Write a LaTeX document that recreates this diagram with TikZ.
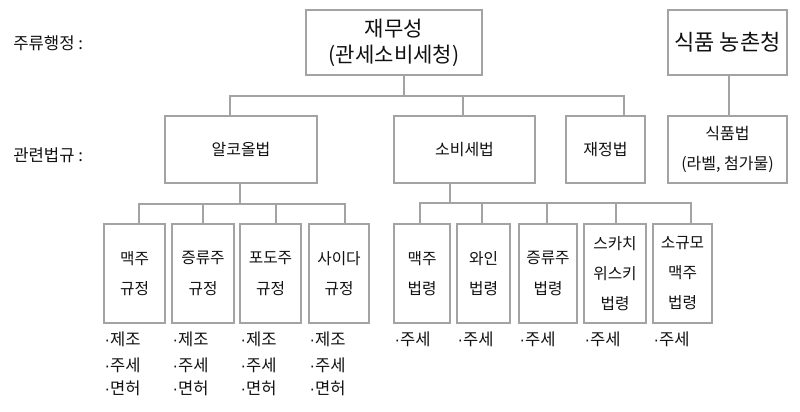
\documentclass[tikz,border=0pt]{standalone}
\usepackage{fontspec}
\setmainfont{Noto Sans CJK KR}
\newfontfamily\dotfont{Liberation Sans}
\newcommand{\mdot}{{\dotfont ·}}
\usetikzlibrary{calc}
\definecolor{linegray}{HTML}{A3A3A3}
\definecolor{txt}{HTML}{111111}
\begin{document}
\begin{tikzpicture}[x=0.75pt,y=-0.75pt,
  box/.style={draw=linegray, line width=0.8pt, rectangle, inner sep=0pt, align=center, text=txt},
  sz/.style 2 args={minimum width={#1*0.75pt}, minimum height={#2*0.75pt}},
  conn/.style={draw=linegray, line width=0.9pt},
  big/.style={font=\fontsize{15.8}{19.5}\selectfont},
  huge/.style={font=\fontsize{16.5}{20}\selectfont},
  mid/.style={font=\fontsize{12}{22.5}\selectfont},
  small/.style={font=\fontsize{11.8}{23}\selectfont},
  bul/.style={anchor=west, inner sep=0pt, text=txt, font=\fontsize{12.4}{14}\selectfont},
  lab/.style={anchor=west, inner sep=0pt, text=txt, font=\fontsize{12.5}{14}\selectfont}]
\useasboundingbox (0,0) rectangle (800,411);
\fill[white] (0,0) rectangle (800,411);

% left labels
\node[lab] (l1) at (13,43) {주류행정 :};
\node[lab] (l2) at (13,155) {관련법규 :};

% top level
\node[box,big,sz={176}{65}] (mof) at (394,42.5) {재무성\\(관세소비세청)};
\node[box,huge,sz={119}{65}] (food) at (727.5,42.5) {식품 농촌청};

% second level
\node[box,mid,sz={152}{67}] (alc) at (241,149.5) {알코올법};
\node[box,mid,sz={141}{67}] (exc) at (464.5,149.5) {소비세법};
\node[box,mid,sz={79}{67}] (fin) at (605.5,149.5) {재정법};
\node[box,mid,sz={119}{67}] (flaw) at (727.5,149.5) {식품법\\(라벨, 첨가물)};

% third level (alcohol law)
\node[box,small,sz={61}{99}] (b1) at (134.5,273.5) {맥주\\규정};
\node[box,small,sz={62}{99}] (b2) at (203,273.5) {증류주\\규정};
\node[box,small,sz={61}{99}] (b3) at (270.5,273.5) {포도주\\규정};
\node[box,small,sz={60}{99}] (b4) at (339,273.5) {사이다\\규정};

% third level (excise law)
\node[box,small,sz={56}{99}] (c1) at (422,273.5) {맥주\\법령};
\node[box,small,sz={53}{99}] (c2) at (483.5,273.5) {와인\\법령};
\node[box,small,sz={58}{99}] (c3) at (548,273.5) {증류주\\법령};
\node[box,font=\fontsize{11.8}{22.5}\selectfont,sz={62}{99}] (c4) at (615,273.5) {스카치\\위스키\\법령};
\node[box,font=\fontsize{11.8}{22.5}\selectfont,sz={59}{99}] (c5) at (682.5,273.5) {소규모\\맥주\\법령};

% bullets
\foreach \b in {b1,b2,b3,b4}{
  \node[bul] (\b-1) at ($(\b.south west)+(1,16)$) {\mdot 제조};
  \node[bul] (\b-2) at ($(\b.south west)+(1,42)$) {\mdot 주세};
  \node[bul] (\b-3) at ($(\b.south west)+(1,65)$) {\mdot 면허};
}
\foreach \c in {c1,c2,c3,c4,c5}{
  \node[bul] (\c-1) at ($(\c.south west)+(1,16)$) {\mdot 주세};
}

% connectors: top
\coordinate (j0) at (404,96);
\coordinate (ja) at (230,96);
\coordinate (je) at (463,96);
\coordinate (jf) at (624,96);
\draw[conn] (mof.south -| j0) -- (j0);
\draw[conn] (alc.north -| ja) -- (ja) -- (jf) -- (fin.north -| jf);
\draw[conn] (exc.north -| je) -- (je);
\draw[conn] (food.south -| 729,0) -- (flaw.north -| 729,0);

% connectors: alcohol law
\coordinate (ka) at (240,204);
\coordinate (k1) at (139,204);
\coordinate (k2) at (203,204);
\coordinate (k3) at (276,204);
\coordinate (k4) at (345,204);
\draw[conn] (alc.south -| ka) -- (ka);
\draw[conn] (b1.north -| k1) -- (k1) -- (k4) -- (b4.north -| k4);
\draw[conn] (b2.north -| k2) -- (k2);
\draw[conn] (b3.north -| k3) -- (k3);

% connectors: excise law
\coordinate (ma) at (450,203);
\coordinate (m1) at (420,203);
\coordinate (m2) at (482,203);
\coordinate (m3) at (547,203);
\coordinate (m4) at (616,203);
\coordinate (m5) at (691,203);
\draw[conn] (exc.south -| ma) -- (ma);
\draw[conn] (c1.north -| m1) -- (m1) -- (m5) -- (c5.north -| m5);
\draw[conn] (c2.north -| m2) -- (m2);
\draw[conn] (c3.north -| m3) -- (m3);
\draw[conn] (c4.north -| m4) -- (m4);
\end{tikzpicture}
\end{document}
